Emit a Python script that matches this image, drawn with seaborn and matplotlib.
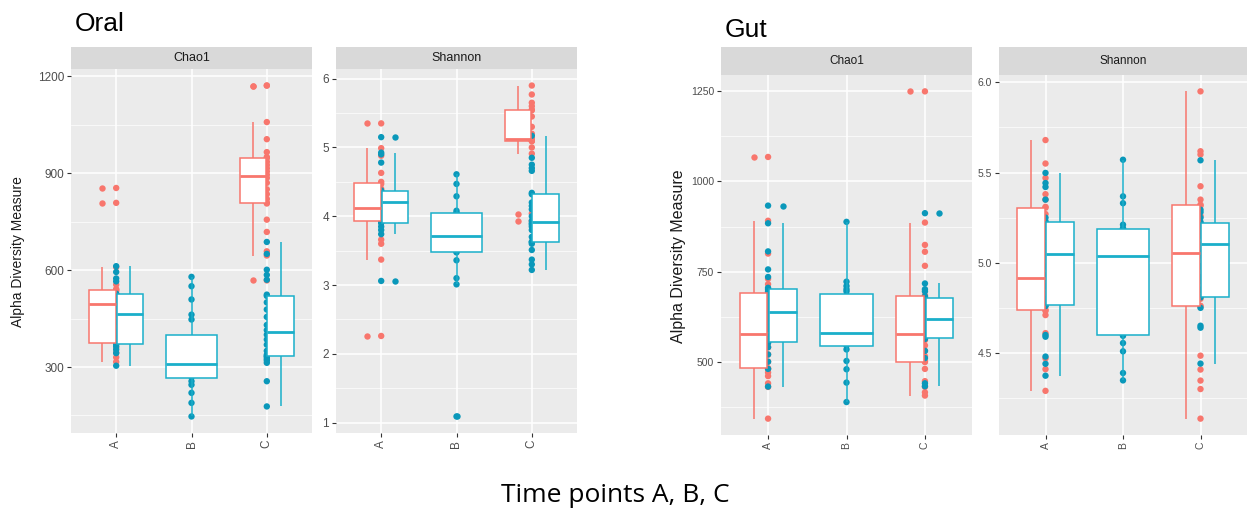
import numpy as np
import pandas as pd
import matplotlib.pyplot as plt
import seaborn as sns
from matplotlib.ticker import MultipleLocator, FormatStrFormatter

times = ['A', 'B', 'C']
groups = ['group 1', 'group 2']

# Oral - Chao1
oral_chao1_A_1 = [316, 330, 345, 360, 373, 375, 400, 430, 460, 490, 500, 515, 525, 535, 539, 541, 555, 609, 808, 854]
oral_chao1_A_2 = [304, 343, 354, 364, 371, 373, 390, 410, 440, 462, 466, 480, 495, 510, 525, 527, 565, 574, 594, 612]
oral_chao1_B_2 = [147, 189, 220, 245, 256, 269, 280, 292, 300, 308, 312, 325, 345, 370, 384, 447, 462, 509, 550, 579]
oral_chao1_C_1 = [568, 645, 658, 718, 756, 806, 809, 820, 835, 850, 870, 885, 895, 905, 915, 925, 935, 946,
                  950, 965, 1005, 1058, 1171, 1171]
oral_chao1_C_2 = [178, 256, 313, 320, 325, 331, 334, 338, 350, 369, 385, 400, 414, 430, 455, 478, 500, 520,
                  524, 570, 585, 601, 650, 687]

# Oral - Shannon
oral_shan_A_1 = [2.26, 3.37, 3.6, 3.66, 3.91, 3.93, 3.98, 4.02, 4.07, 4.10, 4.13, 4.2, 4.3, 4.4, 4.47,
                 4.5, 4.63, 4.88, 4.99, 5.35]
oral_shan_A_2 = [3.06, 3.74, 3.8, 3.85, 3.905, 3.91, 3.95, 4.0, 4.08, 4.18, 4.24, 4.28, 4.31, 4.34, 4.365,
                 4.375, 4.78, 4.9, 4.925, 5.15]
oral_shan_B_2 = [1.09, 3.01, 3.10, 3.36, 3.475, 3.485, 3.52, 3.58, 3.64, 3.69, 3.735, 3.8, 3.88, 3.95, 4.04,
                 4.05, 4.08, 4.29, 4.47, 4.61]
oral_shan_C_1 = [3.93, 4.04, 4.91, 5.0, 5.09, 5.097, 5.10, 5.11, 5.12, 5.125, 5.13, 5.2, 5.3, 5.45, 5.54,
                 5.55, 5.6, 5.65, 5.77, 5.9]
oral_shan_C_2 = [3.22, 3.3, 3.37, 3.51, 3.6, 3.624, 3.63, 3.7, 3.8, 3.85, 3.88, 3.9, 3.935, 4.0, 4.1, 4.15,
                 4.2, 4.32, 4.34, 4.66, 4.7, 4.75, 4.85, 5.17]

# Gut - Chao1
gut_chao1_A_1 = [342, 430, 440, 460, 470, 480, 482, 500, 520, 540, 560, 570, 584, 600, 630, 660, 680, 689,
                 693, 715, 730, 800, 891, 1068]
gut_chao1_A_2 = [431, 480, 500, 520, 540, 552, 554, 570, 590, 600, 615, 630, 646, 660, 675, 685, 695, 701,
                 705, 735, 756, 806, 884, 933]
gut_chao1_B_2 = [388, 442, 479, 502, 534, 545, 552, 560, 568, 575, 583, 600, 630, 660, 684, 695, 701, 710,
                 722, 888]
gut_chao1_C_1 = [406, 415, 430, 446, 480, 499, 501, 515, 530, 545, 560, 570, 582, 600, 620, 640, 660, 680,
                 684, 766, 805, 824, 886, 1250]
gut_chao1_C_2 = [432, 440, 510, 530, 563, 566, 575, 590, 600, 612, 624, 635, 650, 665, 677, 681, 695, 701,
                 717, 912]

# Gut - Shannon
gut_shan_A_1 = [4.29, 4.41, 4.47, 4.61, 4.71, 4.733, 4.74, 4.78, 4.83, 4.87, 4.895, 4.905, 4.927, 5.0, 5.1,
                5.2, 5.27, 5.305, 5.31, 5.35, 5.38, 5.47, 5.55, 5.68]
gut_shan_A_2 = [4.374, 4.44, 4.48, 4.59, 4.6, 4.76, 4.765, 4.8, 4.87, 4.93, 4.98, 5.03, 5.068, 5.1, 5.14,
                5.17, 5.2, 5.222, 5.23, 5.25, 5.35, 5.42, 5.442, 5.498]
gut_shan_B_2 = [4.348, 4.389, 4.509, 4.555, 4.595, 4.6, 4.7, 4.8, 4.9, 5.0, 5.078, 5.1, 5.14, 5.17, 5.188,
                5.192, 5.211, 5.33, 5.368, 5.571]
gut_shan_C_1 = [4.136, 4.30, 4.347, 4.408, 4.485, 4.757, 4.762, 4.8, 4.85, 4.9, 4.98, 5.04, 5.068, 5.1, 5.15,
                5.2, 5.26, 5.316, 5.322, 5.35, 5.424, 5.6, 5.618, 5.95]
gut_shan_C_2 = [4.441, 4.64, 4.651, 4.75, 4.808, 4.812, 4.85, 4.92, 4.98, 5.06, 5.152, 5.17, 5.19, 5.205,
                5.218, 5.226, 5.25, 5.28, 5.294, 5.568]

red = '#F8766D'
teal_box = '#1AAFCA'
teal_pt = '#0A98BA'
box_pal = {groups[0]: red, groups[1]: teal_box}
pt_pal = {groups[0]: red, groups[1]: teal_pt}

plt.rcParams['font.family'] = ['Liberation Sans', 'DejaVu Sans']


def make_df(a1, a2, b2, c1, c2):
    rows = []
    for t, g, vals in [('A', groups[0], a1), ('A', groups[1], a2), ('B', groups[1], b2),
                       ('C', groups[0], c1), ('C', groups[1], c2)]:
        rows += [(t, g, v) for v in vals]
    return pd.DataFrame(rows, columns=['time', 'group', 'value'])


def draw_panel(ax, df, step, fmt, tick_size):
    sns.stripplot(data=df, x='time', y='value', hue='group', order=times, hue_order=groups,
                  palette=pt_pal, jitter=False, dodge=False, size=4.6, linewidth=0,
                  zorder=1, legend=False, ax=ax)
    ac = df[df.time != 'B']
    for g in groups:
        sns.boxplot(data=ac[ac.group == g], x='time', y='value', hue='group', order=times,
                    hue_order=groups, palette={k: 'white' for k in groups}, linecolor=box_pal[g],
                    linewidth=1.1, width=0.74, gap=0.04, dodge=True, showcaps=False,
                    flierprops=dict(marker='o', markersize=4.6, markeredgewidth=0,
                                    markerfacecolor=pt_pal[g], markeredgecolor=pt_pal[g]),
                    medianprops=dict(linewidth=2.0), legend=False, ax=ax)
    sns.boxplot(data=df[df.time == 'B'], x='time', y='value', order=times, color='white',
                linecolor=teal_box, linewidth=1.1, width=0.68, showcaps=False,
                flierprops=dict(marker='o', markersize=4.6, markeredgewidth=0,
                                markerfacecolor=teal_pt, markeredgecolor=teal_pt),
                medianprops=dict(linewidth=2.0), ax=ax)

    lo, hi = df.value.min(), df.value.max()
    pad = (hi - lo) * 0.05
    ax.set_ylim(lo - pad, hi + pad)
    ax.set_xlim(-0.6, 2.6)
    ax.set_facecolor('#EBEBEB')
    ax.yaxis.set_major_locator(MultipleLocator(step))
    ax.yaxis.set_minor_locator(MultipleLocator(step / 2))
    ax.yaxis.set_major_formatter(FormatStrFormatter(fmt))
    ax.set_axisbelow(True)
    ax.grid(which='major', color='white', linewidth=1.1)
    ax.grid(which='minor', axis='y', color='white', linewidth=0.5)
    ax.xaxis.grid(True, color='white', linewidth=1.1)
    for s in ax.spines.values():
        s.set_visible(False)
    ax.tick_params(axis='both', which='major', length=3, width=0.8, color='#333333',
                   labelcolor='#4D4D4D', labelsize=tick_size, pad=2)
    ax.tick_params(axis='y', which='minor', length=0)
    for lab in ax.get_xticklabels():
        lab.set_rotation(90)
    ax.set_xlabel('')
    ax.set_ylabel('')


W, H = 1253, 512
fig = plt.figure(figsize=(W / 100, H / 100), dpi=100)


def px_axes(x0, y0, x1, y1):
    return fig.add_axes([x0 / W, 1 - y1 / H, (x1 - x0) / W, (y1 - y0) / H])


def strip(x0, y0, x1, y1, label, size):
    s = px_axes(x0, y0, x1, y1)
    s.set_facecolor('#D9D9D9')
    s.set_xticks([])
    s.set_yticks([])
    for sp in s.spines.values():
        sp.set_visible(False)
    s.text(0.5, 0.5, label, ha='center', va='center', color='#1A1A1A', fontsize=size,
           transform=s.transAxes)


oral_chao1 = make_df(oral_chao1_A_1, oral_chao1_A_2, oral_chao1_B_2, oral_chao1_C_1, oral_chao1_C_2)
oral_shan = make_df(oral_shan_A_1, oral_shan_A_2, oral_shan_B_2, oral_shan_C_1, oral_shan_C_2)
gut_chao1 = make_df(gut_chao1_A_1, gut_chao1_A_2, gut_chao1_B_2, gut_chao1_C_1, gut_chao1_C_2)
gut_shan = make_df(gut_shan_A_1, gut_shan_A_2, gut_shan_B_2, gut_shan_C_1, gut_shan_C_2)

ax1 = px_axes(71, 69, 312, 433)
draw_panel(ax1, oral_chao1, 300, '%d', 8.5)
strip(71, 47, 312, 69, 'Chao1', 9)

ax2 = px_axes(336, 69, 577, 433)
draw_panel(ax2, oral_shan, 1, '%d', 8.5)
strip(336, 47, 577, 69, 'Shannon', 9)

ax3 = px_axes(721, 75, 972, 435)
draw_panel(ax3, gut_chao1, 250, '%d', 7.5)
strip(721, 47, 972, 75, 'Chao1', 8.5)

ax4 = px_axes(999, 75, 1247, 435)
draw_panel(ax4, gut_shan, 0.5, '%.1f', 7.5)
strip(999, 47, 1247, 75, 'Shannon', 8.5)

fig.text(18 / W, 1 - 252 / H, 'Alpha Diversity Measure', rotation=90, ha='center', va='center',
         fontsize=10, color='#1A1A1A')
fig.text(678 / W, 1 - 256 / H, 'Alpha Diversity Measure', rotation=90, ha='center', va='center',
         fontsize=11.5, color='#1A1A1A')

fig.text(75 / W, 1 - 31 / H, 'Oral', ha='left', va='baseline', fontsize=19)
fig.text(725 / W, 1 - 37 / H, 'Gut', ha='left', va='baseline', fontsize=19)
fig.text(615 / W, 1 - 502 / H, 'Time points A, B, C', ha='center', va='baseline', fontsize=19,
         family=['Open Sans', 'DejaVu Sans'])

fig.savefig('out.png', dpi=100)
